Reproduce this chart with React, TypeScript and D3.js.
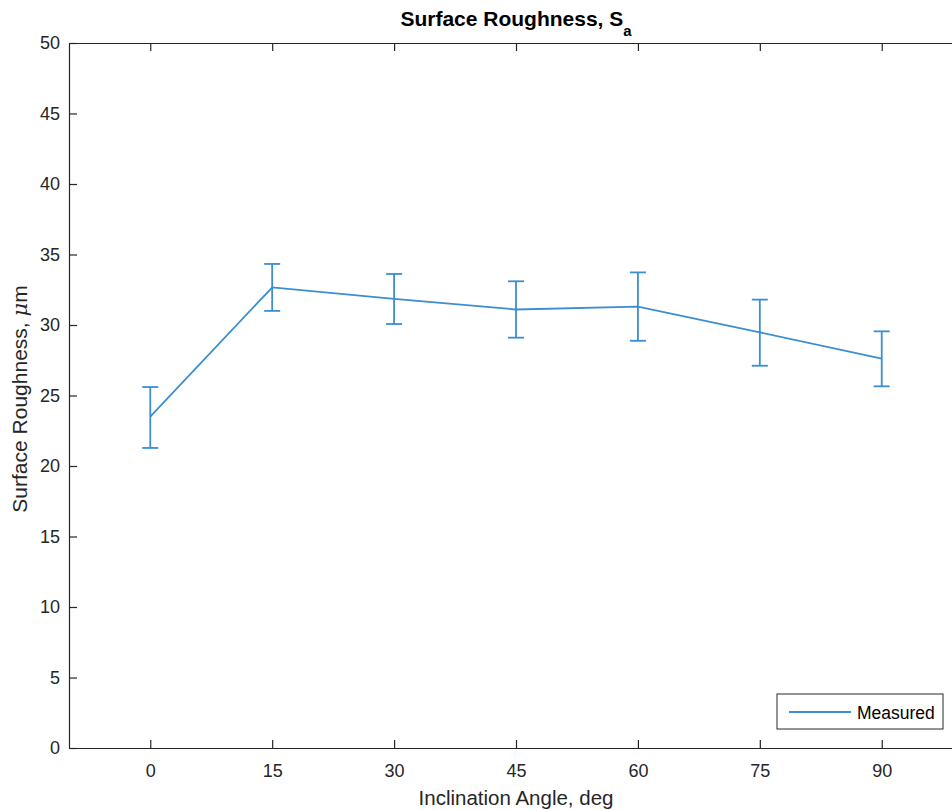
import React, { useEffect, useRef } from "react";
import * as d3 from "d3";

// inclination angle (deg) and measured Sa (um) with error bar limits
const angles = [0, 15, 30, 45, 60, 75, 90];
const meanSa = [23.5, 32.67, 31.86, 31.1, 31.3, 29.48, 27.61];
const upperSa = [25.6, 34.33, 33.62, 33.1, 33.73, 31.8, 29.55];
const lowerSa = [21.28, 31.0, 30.07, 29.1, 28.88, 27.11, 25.65];
const xTicks = [0, 15, 30, 45, 60, 75, 90];
const yTicks = [0, 5, 10, 15, 20, 25, 30, 35, 40, 45, 50];

const W = 952, H = 810;
const margin = { top: 43, right: -11, bottom: 62, left: 69 };
const lineColor = "#3b8ed0";
const axisColor = "#262626";
const font = "'Liberation Sans', Arial, sans-serif";

const App = () => {
	const svgRef = useRef<SVGSVGElement>(null);

	useEffect(() => {
		const svg = d3.select(svgRef.current);
		svg.selectAll("*").remove();

		const x0 = margin.left, x1 = W - margin.right;
		const y0 = H - margin.bottom, y1 = margin.top;

		const xScale = d3.scaleLinear().domain([-10, 100]).range([x0, x1]);
		const yScale = d3.scaleLinear().domain([0, 50]).range([y0, y1]);

		// bottom axis, ticks point inward
		const gx = svg.append("g")
			.attr("transform", `translate(0, ${y0})`)
			.call(d3.axisBottom(xScale).tickValues(xTicks).tickSizeInner(-8).tickSizeOuter(0).tickPadding(16));
		// top axis ticks
		const gxt = svg.append("g")
			.attr("transform", `translate(0, ${y1})`)
			.call(d3.axisTop(xScale).tickValues(xTicks).tickSizeInner(-8).tickSizeOuter(0).tickFormat(() => ""));
		// left axis
		const gy = svg.append("g")
			.attr("transform", `translate(${x0}, 0)`)
			.call(d3.axisLeft(yScale).tickValues(yTicks).tickSizeInner(-8).tickSizeOuter(0).tickPadding(9));
		const gyr = svg.append("g")
			.attr("transform", `translate(${x1}, 0)`)
			.call(d3.axisRight(yScale).tickValues(yTicks).tickSizeInner(-8).tickSizeOuter(0).tickFormat(() => ""));

		[gx, gxt, gy, gyr].forEach(g => {
			g.select(".domain").attr("stroke", axisColor).attr("stroke-width", 1.2);
			g.selectAll(".tick line").attr("stroke", axisColor).attr("stroke-width", 1.2);
			g.selectAll(".tick text")
				.attr("fill", axisColor)
				.style("font-family", font)
				.style("font-size", "18px");
		});

		// line through means
		const line = d3.line<number>()
			.x((d, i) => xScale(angles[i]))
			.y(d => yScale(d));
		svg.append("path")
			.datum(meanSa)
			.attr("d", line)
			.attr("fill", "none")
			.attr("stroke", lineColor)
			.attr("stroke-width", 1.8);

		// error bars
		const eb = svg.append("g").attr("stroke", lineColor).attr("stroke-width", 1.8);
		eb.selectAll("line.v")
			.data(angles)
			.join("line")
			.attr("class", "v")
			.attr("x1", d => xScale(d))
			.attr("x2", d => xScale(d))
			.attr("y1", (d, i) => yScale(upperSa[i]))
			.attr("y2", (d, i) => yScale(lowerSa[i]));
		eb.selectAll("line.cu")
			.data(angles)
			.join("line")
			.attr("class", "cu")
			.attr("x1", d => xScale(d) - 8)
			.attr("x2", d => xScale(d) + 8)
			.attr("y1", (d, i) => yScale(upperSa[i]))
			.attr("y2", (d, i) => yScale(upperSa[i]));
		eb.selectAll("line.cl")
			.data(angles)
			.join("line")
			.attr("class", "cl")
			.attr("x1", d => xScale(d) - 8)
			.attr("x2", d => xScale(d) + 8)
			.attr("y1", (d, i) => yScale(lowerSa[i]))
			.attr("y2", (d, i) => yScale(lowerSa[i]));

		// title
		const cx = (x0 + x1) / 2;
		const title = svg.append("text")
			.attr("x", cx)
			.attr("y", 26)
			.attr("text-anchor", "middle")
			.attr("fill", "#000")
			.style("font-family", font)
			.style("font-size", "21px")
			.style("font-weight", "bold");
		title.append("tspan").text("Surface Roughness, S");
		title.append("tspan").attr("dy", 10).style("font-size", "15px").text("a");

		// x label
		svg.append("text")
			.attr("x", cx)
			.attr("y", 805)
			.attr("text-anchor", "middle")
			.attr("fill", axisColor)
			.style("font-family", font)
			.style("font-size", "20.5px")
			.text("Inclination Angle, deg");

		// y label
		const yl = svg.append("text")
			.attr("transform", `translate(27, 399) rotate(-90)`)
			.attr("text-anchor", "middle")
			.attr("fill", axisColor)
			.style("font-family", font)
			.style("font-size", "21px");
		yl.append("tspan").text("Surface Roughness, ");
		yl.append("tspan").style("font-style", "italic").style("font-family", "'DejaVu Serif', serif").text("\u03bc");
		yl.append("tspan").text("m");

		// legend
		const lg = svg.append("g").attr("transform", "translate(777, 694)");
		lg.append("rect")
			.attr("width", 166).attr("height", 35)
			.attr("fill", "#fff")
			.attr("stroke", axisColor)
			.attr("stroke-width", 1);
		lg.append("line")
			.attr("x1", 12).attr("x2", 74)
			.attr("y1", 18).attr("y2", 18)
			.attr("stroke", lineColor).attr("stroke-width", 1.8);
		lg.append("text")
			.attr("x", 80).attr("y", 24.5)
			.attr("fill", "#000")
			.style("font-family", font)
			.style("font-size", "17.5px")
			.text("Measured");
	}, []);

	return (
		<div style={{ position: "absolute", left: 0, top: 0, width: W, height: H, background: "#fff" }}>
			<svg ref={svgRef} width={W} height={H}></svg>
		</div>
	);
};

export default App;
